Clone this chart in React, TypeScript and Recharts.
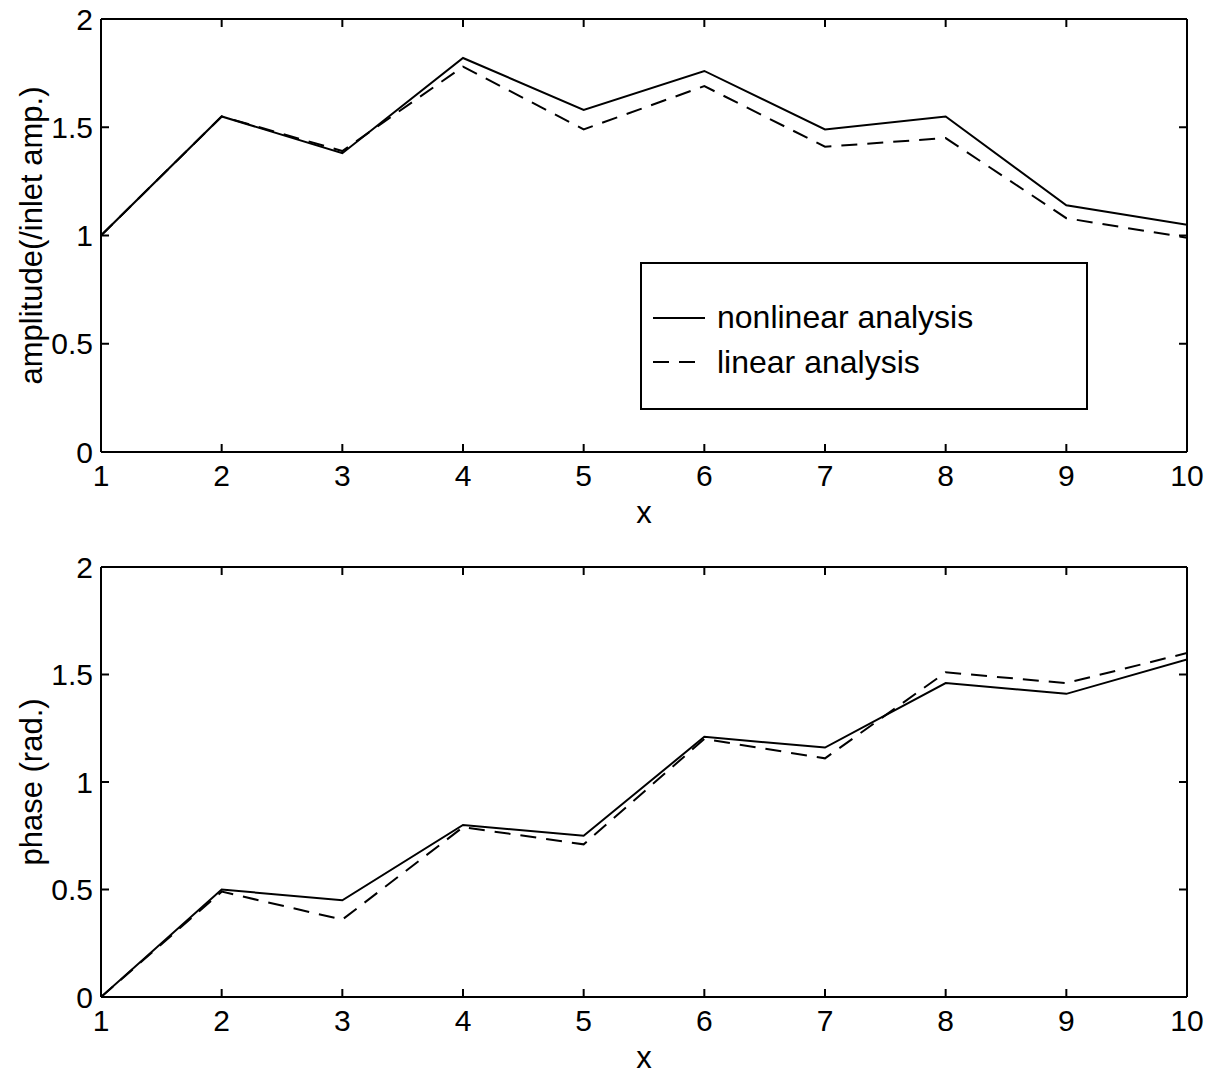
import React from 'react';
import { LineChart, Line, XAxis, YAxis, Legend } from 'recharts';

// streamwise station index
const X_STATIONS = [1, 2, 3, 4, 5, 6, 7, 8, 9, 10];

// amplitude normalised by inlet amplitude
const AMP_NONLINEAR = [1.0, 1.55, 1.38, 1.82, 1.58, 1.76, 1.49, 1.55, 1.14, 1.05];
const AMP_LINEAR = [1.0, 1.55, 1.39, 1.78, 1.49, 1.69, 1.41, 1.45, 1.08, 0.99];

// phase in radians
const PHASE_NONLINEAR = [0, 0.5, 0.45, 0.8, 0.75, 1.21, 1.16, 1.46, 1.41, 1.57];
const PHASE_LINEAR = [0, 0.49, 0.36, 0.79, 0.71, 1.2, 1.11, 1.51, 1.46, 1.6];

const X_TICKS = [1, 2, 3, 4, 5, 6, 7, 8, 9, 10];
const Y_TICKS = [0, 0.5, 1, 1.5, 2];

const SERIES_KEYS = ['nonlinear', 'linear'];
const SERIES_NAMES = ['nonlinear analysis', 'linear analysis'];

const FONT = '"Liberation Sans", Arial, Helvetica, sans-serif';
const INK = '#000';

const buildRows = (nl: number[], lin: number[]) =>
  X_STATIONS.map((x, i) => ({ x, nonlinear: nl[i], linear: lin[i] }));

const AMP_ROWS = buildRows(AMP_NONLINEAR, AMP_LINEAR);
const PHASE_ROWS = buildRows(PHASE_NONLINEAR, PHASE_LINEAR);

const axisLine = { stroke: INK, strokeWidth: 2 };
const tickLine = { stroke: INK, strokeWidth: 2 };
const tickFont = { fill: INK, fontSize: 30, fontFamily: FONT };
const blank = () => '';

function LegendBox(props: any) {
  // keep plotting order: nonlinear first, then linear
  const items = [...(props.payload || [])].sort(
    (a: any, b: any) => SERIES_KEYS.indexOf(a.dataKey) - SERIES_KEYS.indexOf(b.dataKey)
  );
  return (
    <div
      style={{
        width: 448,
        height: 148,
        boxSizing: 'border-box',
        border: '2px solid #000',
        background: '#fff',
      }}
    >
      <svg width={444} height={144} style={{ display: 'block' }}>
        {items.map((item: any, i: number) => (
          <g key={item.value}>
            <line
              x1={11}
              x2={63}
              y1={54 + i * 44}
              y2={54 + i * 44}
              stroke={INK}
              strokeWidth={2}
              strokeDasharray={item.payload?.strokeDasharray}
            />
            <text x={75} y={64 + i * 45} fontSize={32} fontFamily={FONT} fill={INK}>
              {item.value}
            </text>
          </g>
        ))}
      </svg>
    </div>
  );
}

type PanelProps = {
  rows: { x: number; nonlinear: number; linear: number }[];
  yLabel: string;
  height: number;
  top: number;
  plotHeight: number;
  legend?: boolean;
};

function Panel({ rows, yLabel, height, top, plotHeight, legend }: PanelProps) {
  const xAxisHeight = 60;
  return (
    <LineChart
      width={1214}
      height={height}
      data={rows}
      margin={{ top: top - 1, right: 26, left: 21, bottom: height - top - plotHeight - xAxisHeight }}
    >
      <XAxis
        dataKey="x"
        type="number"
        domain={[1, 10]}
        ticks={X_TICKS}
        interval={0}
        allowDataOverflow
        height={xAxisHeight}
        tickSize={-8}
        tickMargin={21}
        axisLine={axisLine}
        tickLine={tickLine}
        tick={tickFont}
        label={(p: any) => {
          const vb = p.viewBox;
          return (
            <text
              x={vb.x + vb.width / 2}
              y={vb.y + 71}
              textAnchor="middle"
              fontSize={31}
              fontFamily={FONT}
              fill={INK}
            >
              x
            </text>
          );
        }}
      />
      <XAxis
        xAxisId="top"
        dataKey="x"
        orientation="top"
        type="number"
        domain={[1, 10]}
        ticks={X_TICKS}
        interval={0}
        allowDataOverflow
        height={1}
        tickSize={-8}
        tickFormatter={blank}
        axisLine={axisLine}
        tickLine={tickLine}
      />
      <YAxis
        type="number"
        domain={[0, 2]}
        ticks={Y_TICKS}
        interval={0}
        allowDataOverflow
        width={80}
        tickSize={-8}
        tickMargin={16}
        axisLine={axisLine}
        tickLine={tickLine}
        tick={tickFont}
        label={(p: any) => {
          const vb = p.viewBox;
          const cx = vb.x + 21;
          const cy = vb.y + vb.height / 2;
          return (
            <text
              x={cx}
              y={cy}
              transform={`rotate(-90 ${cx} ${cy})`}
              textAnchor="middle"
              fontSize={31}
              fontFamily={FONT}
              fill={INK}
            >
              {yLabel}
            </text>
          );
        }}
      />
      <YAxis
        yAxisId="right"
        orientation="right"
        type="number"
        domain={[0, 2]}
        ticks={Y_TICKS}
        interval={0}
        allowDataOverflow
        width={1}
        tickSize={-8}
        tickFormatter={blank}
        axisLine={axisLine}
        tickLine={tickLine}
      />
      {SERIES_KEYS.map((key, i) => (
        <Line
          key={key}
          type="linear"
          dataKey={key}
          name={SERIES_NAMES[i]}
          stroke={INK}
          strokeWidth={2}
          strokeDasharray={key === 'linear' ? '16 10' : undefined}
          dot={false}
          activeDot={false}
          isAnimationActive={false}
        />
      ))}
      {legend && (
        <Legend
          layout="horizontal"
          verticalAlign="middle"
          align="center"
          wrapperStyle={{ left: 640, top: 262, width: 448, height: 148 }}
          content={LegendBox}
        />
      )}
    </LineChart>
  );
}

export default function App() {
  return (
    <div
      style={{
        position: 'absolute',
        left: 0,
        top: 0,
        width: 1214,
        height: 1076,
        background: '#fff',
      }}
    >
      <Panel rows={AMP_ROWS} yLabel="amplitude(/inlet amp.)" height={540} top={19} plotHeight={433} legend />
      <div style={{ position: 'absolute', left: 0, top: 540 }}>
        <Panel rows={PHASE_ROWS} yLabel="phase (rad.)" height={536} top={27} plotHeight={430} />
      </div>
    </div>
  );
}
